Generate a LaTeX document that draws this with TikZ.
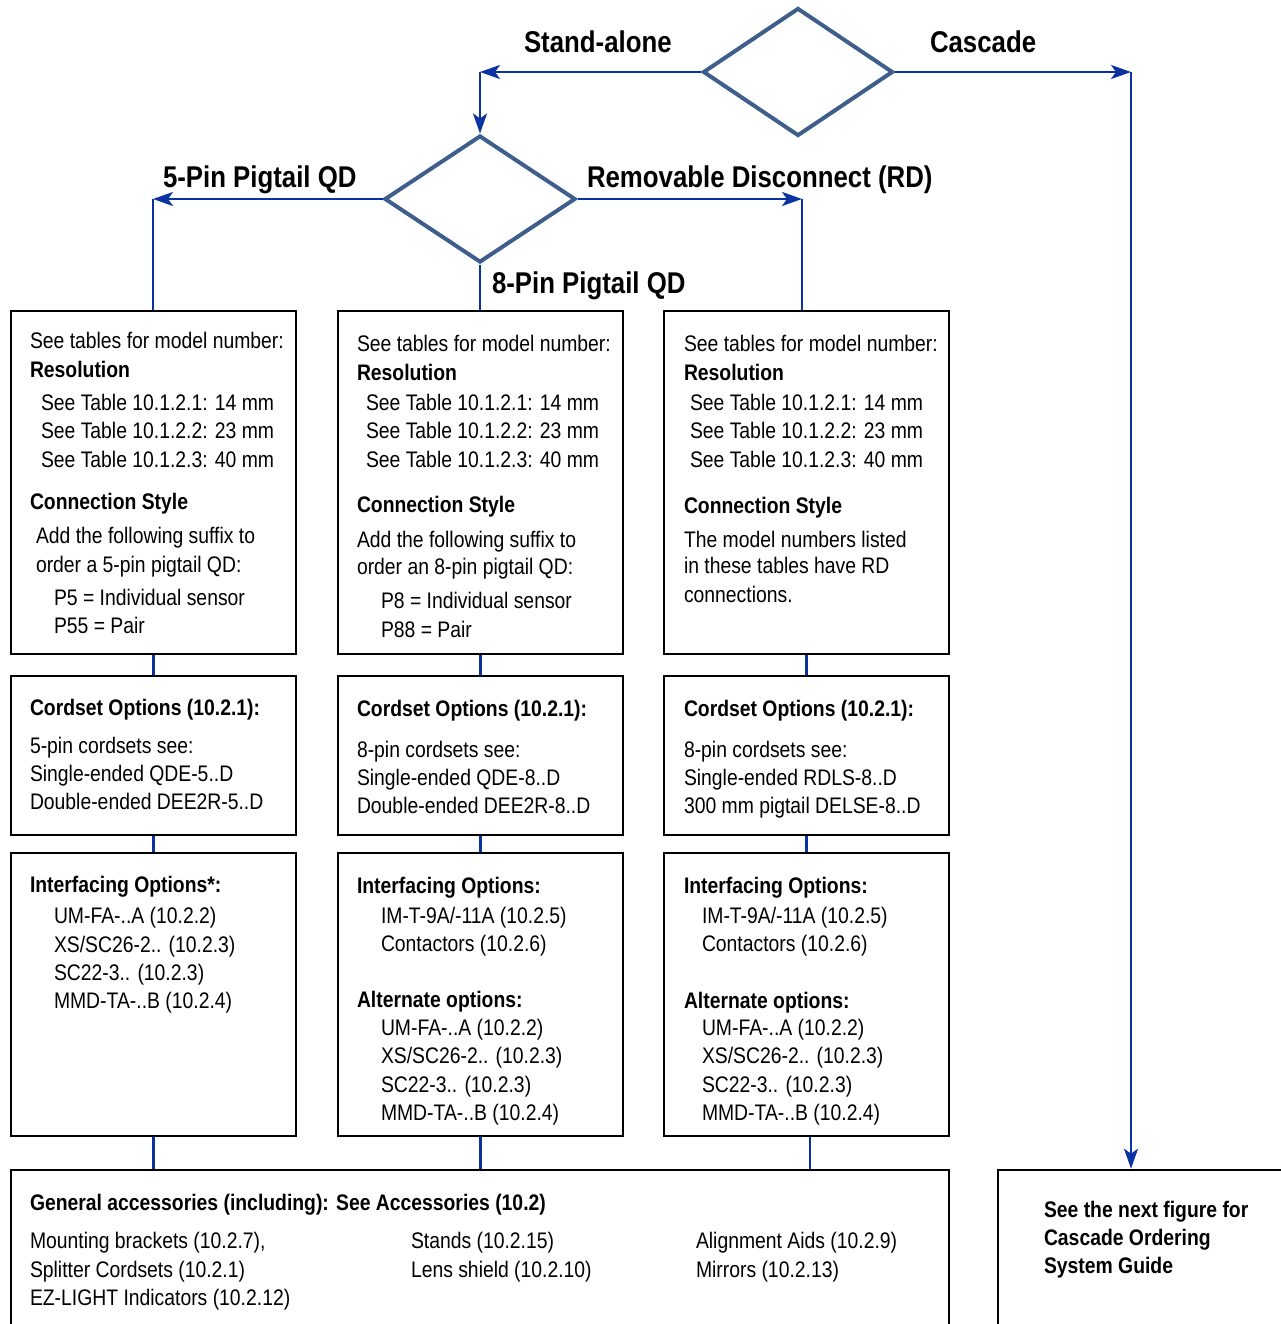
\documentclass[tikz,border=0pt]{standalone}
\usepackage{fontspec}
\setmainfont{Liberation Sans}[FakeStretch=0.86]
\usetikzlibrary{shapes.geometric,arrows.meta}
\definecolor{dia}{RGB}{62,94,140}
\definecolor{arr}{RGB}{10,50,160}
\newcommand\tx[4]{\node[txt] (#1) at (#2,#3) {#4};}
\newcommand\tbx[4]{\node[txt,font=\fontsize{22.5}{27}\selectfont\bfseries] (#1) at (#2,#3) {#4};}
\begin{document}
\begin{tikzpicture}[x=1pt,y=-1pt,
 txt/.style={anchor=base west,inner sep=0pt,outer sep=0pt,font=\fontsize{22.5}{27}\selectfont},
 lbl/.style={anchor=base west,inner sep=0pt,outer sep=0pt,font=\fontsize{30}{36}\selectfont\bfseries},
 dec/.style={diamond,draw=dia,line width=4pt,inner sep=0pt},
 box/.style={draw=black,line width=2.6pt,inner sep=0pt},
 conn/.style={draw=arr,line width=2.4pt},
 arrow/.style={conn,-{Stealth[length=20pt,width=14pt,inset=5pt]}}]
\useasboundingbox (0,0) rectangle (1281,1324);
\clip (0,0) rectangle (1281,1324);
% decisions
\node[dec,minimum width=190pt,minimum height=128pt] (d1) at (798,72) {};
\node[dec,minimum width=191pt,minimum height=127pt] (d2) at (480,199) {};
% boxes
\node[box,minimum width=285pt,minimum height=343pt] (b11) at (153.5,482.5) {};
\node[box,minimum width=285pt,minimum height=343pt] (b12) at (480.5,482.5) {};
\node[box,minimum width=285pt,minimum height=343pt] (b13) at (806.5,482.5) {};
\node[box,minimum width=285pt,minimum height=159pt] (b21) at (153.5,755.5) {};
\node[box,minimum width=285pt,minimum height=159pt] (b22) at (480.5,755.5) {};
\node[box,minimum width=285pt,minimum height=159pt] (b23) at (806.5,755.5) {};
\node[box,minimum width=285pt,minimum height=283pt] (b31) at (153.5,994.5) {};
\node[box,minimum width=285pt,minimum height=283pt] (b32) at (480.5,994.5) {};
\node[box,minimum width=285pt,minimum height=283pt] (b33) at (806.5,994.5) {};
\node[box,minimum width=938pt,minimum height=200pt] (bot) at (480,1270) {};
\node[box,minimum width=322pt,minimum height=200pt] (rb) at (1159,1270) {};
% corners
\coordinate (k1) at (480,72);
\coordinate (k2) at (1131,72);
\coordinate (k5) at (153,199);
\coordinate (k6) at (802,199);
% connectors
\draw[arrow] (d1.west) -- (k1);
\draw[arrow] (k1) -- (d2.north);
\draw[arrow] (d1.east) -- (k2);
\draw[arrow] (k2) -- (k2 |- rb.north);
\draw[arrow] (d2.west) -- (k5);
\draw[conn] (k5) -- (k5 |- b11.north);
\draw[arrow] (d2.east) -- (k6);
\draw[conn] (k6) -- (k6 |- b13.north);
\draw[conn] (d2.south) -- (d2.south |- b12.north);
\draw[conn] (b11.south) -- (b21.north);
\draw[conn] (b12.south) -- (b22.north);
\draw[conn] (b13.south) -- (b23.north);
\draw[conn] (b21.south) -- (b31.north);
\draw[conn] (b22.south) -- (b32.north);
\draw[conn] (b23.south) -- (b33.north);
\draw[conn] (b31.south) -- (b31.south |- bot.north);
\draw[conn] (b32.south) -- (b32.south |- bot.north);
\draw[conn] ([xshift=3.5pt]b33.south) -- ([xshift=3.5pt]b33.south |- bot.north);
% branch labels
\node[lbl] (l1) at (524,53) {Stand-alone};
\node[lbl] (l2) at (930,53) {Cascade};
\node[lbl] (l3) at (163,188) {5-Pin Pigtail QD};
\node[lbl] (l4) at (587,188) {Removable Disconnect (RD)};
\node[lbl] (l5) at (492,293) {8-Pin Pigtail QD};
% column 1 row 1
\tx{a1}{30}{348}{See tables for model number:}
\tbx{a2}{30}{377}{Resolution}
\tx{a3}{41}{410}{See Table 10.1.2.1: 14 mm}
\tx{a4}{41}{438}{See Table 10.1.2.2: 23 mm}
\tx{a5}{41}{467}{See Table 10.1.2.3: 40 mm}
\tbx{a6}{30}{509}{Connection Style}
\tx{a7}{36}{543}{Add the following suffix to}
\tx{a8}{36}{572}{order a 5-pin pigtail QD:}
\tx{a9}{54}{605}{P5 = Individual sensor}
\tx{a10}{54}{633}{P55 = Pair}
% column 2 row 1
\tx{b1}{357}{351}{See tables for model number:}
\tbx{b2}{357}{380}{Resolution}
\tx{b3}{366}{410}{See Table 10.1.2.1: 14 mm}
\tx{b4}{366}{438}{See Table 10.1.2.2: 23 mm}
\tx{b5}{366}{467}{See Table 10.1.2.3: 40 mm}
\tbx{b6}{357}{512}{Connection Style}
\tx{b7}{357}{547}{Add the following suffix to}
\tx{b8}{357}{574}{order an 8-pin pigtail QD:}
\tx{b9}{381}{608}{P8 = Individual sensor}
\tx{b10}{381}{637}{P88 = Pair}
% column 3 row 1
\tx{c1}{684}{351}{See tables for model number:}
\tbx{c2}{684}{380}{Resolution}
\tx{c3}{690}{410}{See Table 10.1.2.1: 14 mm}
\tx{c4}{690}{438}{See Table 10.1.2.2: 23 mm}
\tx{c5}{690}{467}{See Table 10.1.2.3: 40 mm}
\tbx{c6}{684}{513}{Connection Style}
\tx{c7}{684}{547}{The model numbers listed}
\tx{c8}{684}{573}{in these tables have RD}
\tx{c9}{684}{602}{connections.}
% row 2
\tbx{d1a}{30}{715}{Cordset Options (10.2.1):}
\tx{d1b}{30}{753}{5-pin cordsets see:}
\tx{d1c}{30}{781}{Single-ended QDE-5..D}
\tx{d1d}{30}{809}{Double-ended DEE2R-5..D}
\tbx{d2a}{357}{716}{Cordset Options (10.2.1):}
\tx{d2b}{357}{757}{8-pin cordsets see:}
\tx{d2c}{357}{785}{Single-ended QDE-8..D}
\tx{d2d}{357}{813}{Double-ended DEE2R-8..D}
\tbx{d3a}{684}{716}{Cordset Options (10.2.1):}
\tx{d3b}{684}{757}{8-pin cordsets see:}
\tx{d3c}{684}{785}{Single-ended RDLS-8..D}
\tx{d3d}{684}{813}{300 mm pigtail DELSE-8..D}
% row 3
\tbx{e1a}{30}{892}{Interfacing Options*:}
\tx{e1b}{54}{923}{UM-FA-..A (10.2.2)}
\tx{e1c}{54}{952}{XS/SC26-2.. (10.2.3)}
\tx{e1d}{54}{980}{SC22-3.. (10.2.3)}
\tx{e1e}{54}{1008}{MMD-TA-..B (10.2.4)}
\tbx{e2a}{357}{893}{Interfacing Options:}
\tx{e2b}{381}{923}{IM-T-9A/-11A (10.2.5)}
\tx{e2c}{381}{951}{Contactors (10.2.6)}
\tbx{e2d}{357}{1007}{Alternate options:}
\tx{e2e}{381}{1035}{UM-FA-..A (10.2.2)}
\tx{e2f}{381}{1063}{XS/SC26-2.. (10.2.3)}
\tx{e2g}{381}{1092}{SC22-3.. (10.2.3)}
\tx{e2h}{381}{1120}{MMD-TA-..B (10.2.4)}
\tbx{e3a}{684}{893}{Interfacing Options:}
\tx{e3b}{702}{923}{IM-T-9A/-11A (10.2.5)}
\tx{e3c}{702}{951}{Contactors (10.2.6)}
\tbx{e3d}{684}{1008}{Alternate options:}
\tx{e3e}{702}{1035}{UM-FA-..A (10.2.2)}
\tx{e3f}{702}{1063}{XS/SC26-2.. (10.2.3)}
\tx{e3g}{702}{1092}{SC22-3.. (10.2.3)}
\tx{e3h}{702}{1120}{MMD-TA-..B (10.2.4)}
% bottom
\tbx{f1}{30}{1210}{General accessories (including): See Accessories (10.2)}
\tx{f2}{30}{1248}{Mounting brackets (10.2.7),}
\tx{f3}{30}{1277}{Splitter Cordsets (10.2.1)}
\tx{f4}{30}{1305}{EZ-LIGHT Indicators (10.2.12)}
\tx{f5}{411}{1248}{Stands (10.2.15)}
\tx{f6}{411}{1277}{Lens shield (10.2.10)}
\tx{f7}{696}{1248}{Alignment Aids (10.2.9)}
\tx{f8}{696}{1277}{Mirrors (10.2.13)}
% right box
\tbx{g1}{1044}{1217}{See the next figure for}
\tbx{g2}{1044}{1245}{Cascade Ordering}
\tbx{g3}{1044}{1273}{System Guide}
\end{tikzpicture}
\end{document}
